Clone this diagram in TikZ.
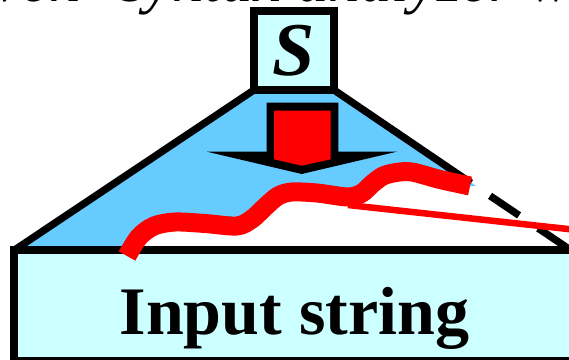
\documentclass[tikz,border=0pt]{standalone}
\usepackage{fontspec}
\setmainfont{Liberation Serif}
\usetikzlibrary{positioning}
\definecolor{boxcyan}{HTML}{CCFFFF}
\definecolor{treeblue}{HTML}{66CCFF}

\begin{document}
\begin{tikzpicture}[x=1pt,y=-1pt,
   every node/.style={inner sep=0pt,outer sep=0pt},
   outline/.style={line width=7.3pt},
   frontier/.style={red,line width=19pt},
   boxed/.style={draw,fill=boxcyan,line width=7.6pt}]
  \useasboundingbox (0,0) rectangle (569,359);
  \clip (0,0) rectangle (569,359);
  % sentence above, cut off by the frame
  \node[anchor=south west,font=\fontsize{63}{70}\selectfont\itshape] (caption)
     at (-6,15.5) {ven\hspace{0.62em}syntax analyzer w};
  % corners of the tree
  \coordinate (topL) at (254,90);
  \coordinate (topR) at (334,90);
  \coordinate (baseL) at (16,249);
  \coordinate (baseR) at (569,249);
  \coordinate (cut) at (471,183);
  % part of the tree built so far
  \fill[treeblue] (topL) -- (baseL) -- (127,249)
     -- plot[smooth] coordinates {(127,256) (139,237) (154,226) (175,222)
        (205,223.5) (237,226) (252,219) (265,207) (278,196) (292,192)
        (317,193) (348,197) (362,193) (372,184) (383,176) (396,172.5)
        (412,172) (440,179.5) (470,186)}
     -- (476,186) -- (topR) -- cycle;
  % input
  \node[boxed,minimum width=606pt,minimum height=111pt,anchor=north west]
     (input) at (14,250) {};
  \node[anchor=base,font=\fontsize{68}{80}\selectfont\bfseries] (label)
     at (294.5,334) {Input string};
  % sides of the tree
  \draw[outline] (topL) -- (baseL);
  \draw[outline] (topR) -- (cut);
  \draw[outline,dash pattern=on 35pt off 23pt,dash phase=35pt] (cut) -- (baseR);
  % downward arrow
  \fill (266.7,102.7) -- (338.3,102.7) -- (338.3,151.7) -- (396.7,151.7)
     -- (301.7,174) -- (207,151.7) -- (266.7,151.7) -- cycle;
  \fill[red] (274,110.7) -- (330.7,110.7) -- (330.7,159.3) -- (301.7,165.7)
     -- (274,159.3) -- cycle;
  % start symbol
  \node[boxed,line width=7.3pt,minimum width=80pt,minimum height=79pt,
     font=\fontsize{76}{80}\selectfont\bfseries\itshape] (start) at (294,50.5) {S};
  % frontier
  \draw[red,line width=6.5pt] (348,205) -- (600,232.5);
  \draw[frontier] plot[smooth] coordinates {(127,256) (139,237) (154,226)
     (175,222) (205,223.5) (237,226) (252,219) (265,207) (278,196) (292,192)
     (317,193) (348,197) (362,193) (372,184) (383,176) (396,172.5)
     (412,172) (440,179.5) (470,186)};
\end{tikzpicture}
\end{document}
